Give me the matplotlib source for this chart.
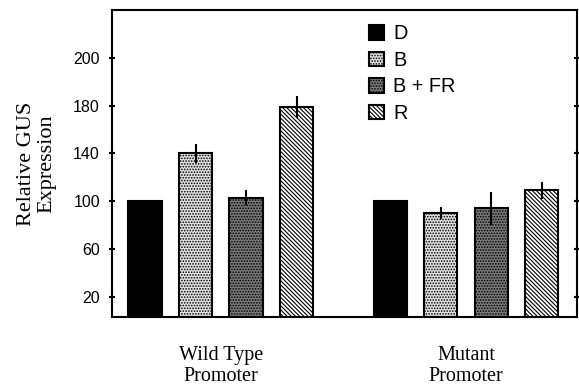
import matplotlib.pyplot as plt
import numpy as np

conditions = ['D', 'B', 'B + FR', 'R']
groups = ['Wild Type\nPromoter', 'Mutant\nPromoter']
wild_vals = [100, 140, 103, 179]
wild_err = [0, 8, 6, 9]
mut_vals = [100, 90, 94, 109]
mut_err = [0, 5, 14, 7]
ytick_pos = [20, 60, 100, 140, 180, 220]
ytick_labels = ['20', '60', '100', '140', '180', '200']

faces = ['black', '#e2e2e2', '#7a7a7a', 'white']
hatches = [None, '......', '......', '\\\\\\\\\\\\\\\\']

plt.rcParams['hatch.linewidth'] = 0.8

fig = plt.figure(figsize=(5.79, 3.87), dpi=100)
ax = fig.add_axes([0.193, 0.181, 0.803, 0.793])

x = np.arange(len(conditions))
offsets = [0, 4.85]
data = [(wild_vals, wild_err), (mut_vals, mut_err)]
for g, (vals, errs) in enumerate(data):
    for i in range(len(conditions)):
        ax.bar(x[i] + offsets[g], vals[i], width=0.66, color=faces[i],
               edgecolor='black', linewidth=1.5, hatch=hatches[i],
               label=conditions[i] if g == 0 else None)
        if errs[i] > 0:
            ax.errorbar(x[i] + offsets[g], vals[i], yerr=errs[i], fmt='none',
                        ecolor='black', elinewidth=1.5, capsize=0)

ax.set_xlim(-0.66, 8.54)
ax.set_ylim(3, 260)
ax.set_yticks(ytick_pos)
ax.set_yticklabels(ytick_labels, fontsize=11.5, family='Liberation Sans')
ax.tick_params(axis='y', direction='inout', length=5, width=1.5, right=True, pad=6)

centers = [np.mean(x), np.mean(x) + offsets[1]]
ax.set_xticks(centers)
ax.set_xticklabels(groups, fontsize=14.5, family='Liberation Serif', linespacing=1.1)
ax.tick_params(axis='x', length=0, pad=21)

for s in ax.spines.values():
    s.set_linewidth(1.5)

ax.set_ylabel('Relative GUS\nExpression', fontsize=16, family='Liberation Serif',
              linespacing=1.1, labelpad=12)

leg = ax.legend(loc='upper left', bbox_to_anchor=(0.515, 1.012), frameon=False,
                prop={'family': 'Liberation Sans', 'size': 14.3},
                handlelength=0.75, handleheight=0.75, handletextpad=0.45,
                labelspacing=0.38)

fig.savefig('out.png', dpi=100)
